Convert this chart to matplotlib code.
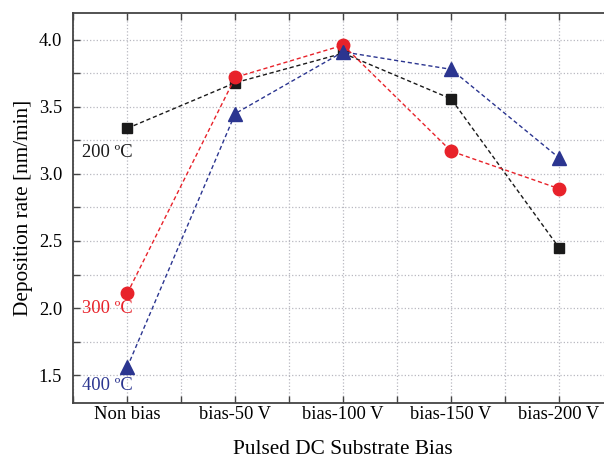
import numpy as np
import matplotlib
matplotlib.use('Agg')
import matplotlib.pyplot as plt
from matplotlib.ticker import MultipleLocator, FormatStrFormatter

plt.rcParams['font.family'] = ['Liberation Serif', 'DejaVu Serif']

# Deposition rate vs. substrate bias for three temperatures
bias_labels = ['Non bias', 'bias-50 V', 'bias-100 V', 'bias-150 V', 'bias-200 V']
rate_200 = [3.34, 3.68, 3.90, 3.56, 2.45]
rate_300 = [2.11, 3.72, 3.96, 3.17, 2.89]
rate_400 = [1.56, 3.45, 3.91, 3.78, 3.12]

x = np.arange(len(bias_labels))

fig = plt.figure(figsize=(6.04, 4.59), dpi=100)
ax = fig.add_axes([0.1214, 0.1214, 0.8935, 0.8503])

ax.plot(x, rate_200, ls='--', lw=1.0, color='#1a1a1a', marker='s', ms=7.5,
        dashes=(3, 2), zorder=3)
ax.plot(x, rate_300, ls='--', lw=1.0, color='#e8222a', marker='o', ms=9,
        dashes=(3, 2), zorder=3)
ax.plot(x, rate_400, ls='--', lw=1.0, color='#2b3590', marker='^', ms=10.5,
        dashes=(3, 2), zorder=3)

ax.text(-0.42, 3.16, '200 ºC', color='#1a1a1a', fontsize=13.3, va='center')
ax.text(-0.42, 2.0, '300 ºC', color='#e8222a', fontsize=13.3, va='center')
ax.text(-0.42, 1.42, '400 ºC', color='#2b3590', fontsize=13.3, va='center')

ax.set_xlim(-0.5, 4.5)
ax.set_ylim(1.29, 4.20)
ax.set_xticks(x)
ax.set_xticklabels(bias_labels)
ax.xaxis.set_minor_locator(MultipleLocator(0.5))
ax.yaxis.set_major_locator(MultipleLocator(0.5))
ax.yaxis.set_minor_locator(MultipleLocator(0.25))
ax.yaxis.set_major_formatter(FormatStrFormatter('%.1f'))

ax.tick_params(which='both', direction='in', top=True, right=True,
               length=5, width=1.0, color='#444444', labelsize=13.3)
ax.tick_params(axis='x', pad=2)
ax.tick_params(axis='y', pad=8)
ax.grid(which='both', ls=':', lw=0.9, color='#b8b8c0')
ax.set_axisbelow(True)
for s in ax.spines.values():
    s.set_color('#444444')
    s.set_linewidth(1.3)

ax.set_xlabel('Pulsed DC Substrate Bias', fontsize=15.3, labelpad=12)
ax.set_ylabel('Deposition rate [nm/min]', fontsize=15.3, labelpad=4)

fig.savefig('out.png', dpi=100)
